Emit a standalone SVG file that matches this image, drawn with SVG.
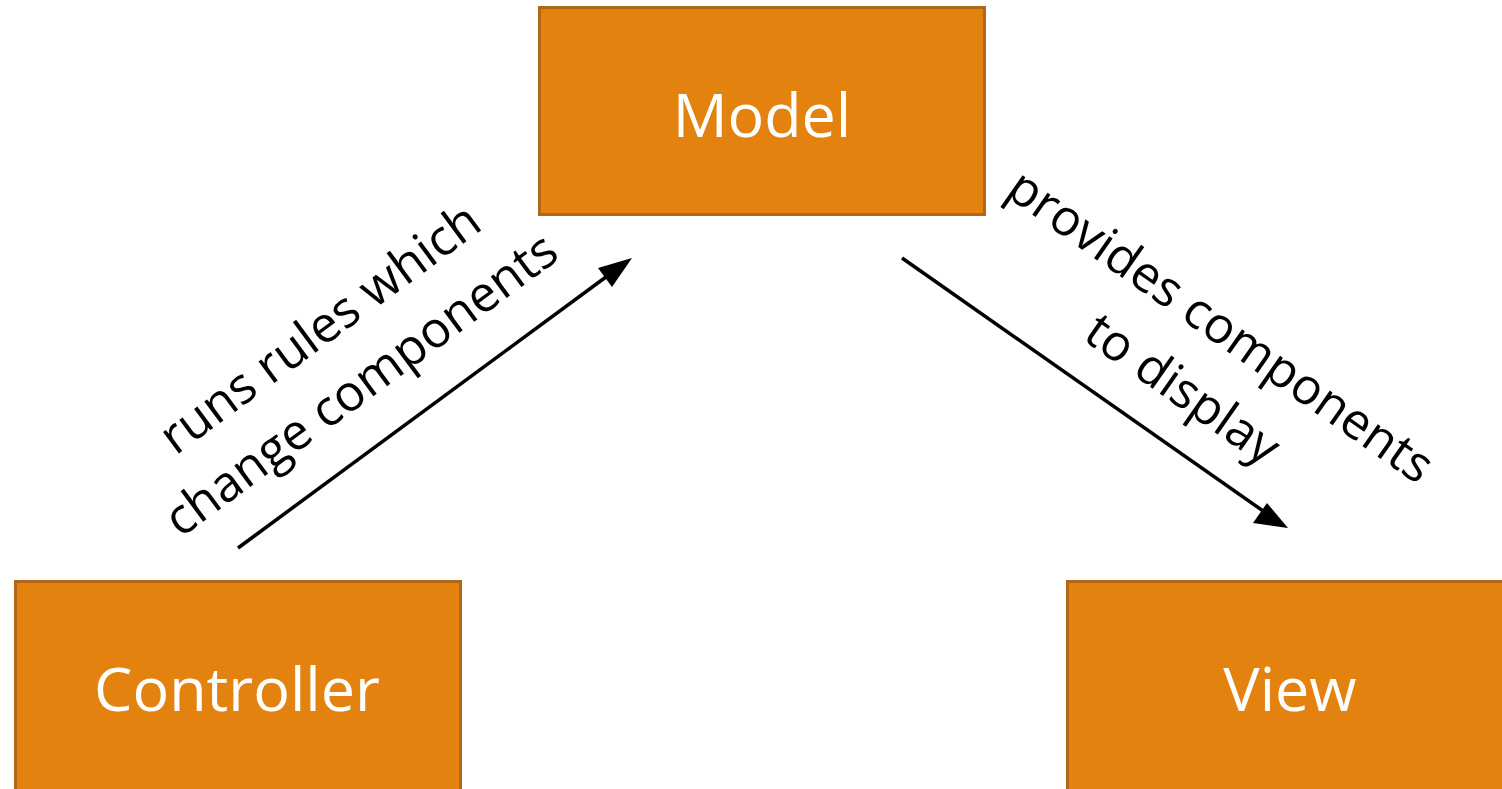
<svg xmlns="http://www.w3.org/2000/svg" width="1502" height="789" viewBox="0 0 1502 789">
<defs>
<style>
.box{fill:#E3820F;stroke:#B06818;stroke-width:3}
.nt{font-family:"Open Sans","Liberation Sans",sans-serif;font-size:61px;fill:#ffffff;text-anchor:middle}
.lb{font-family:"Open Sans","Liberation Sans",sans-serif;font-size:50px;fill:#000000;text-anchor:middle}
.cn{stroke:#000;stroke-width:3.5;fill:none}
</style>
</defs>
<rect width="1502" height="789" fill="#fff"/>
<g id="model"><rect class="box" x="539.5" y="7.5" width="445" height="207"/><text class="nt" x="762" y="137">Model</text></g>
<g id="controller"><rect class="box" x="15.5" y="581.5" width="445" height="220"/><text class="nt" x="237" y="711">Controller</text></g>
<g id="view"><rect class="box" x="1067.5" y="581.5" width="445" height="220"/><text class="nt" x="1290" y="711">View</text></g>
<g id="connectors">
<line class="cn" x1="238" y1="548" x2="610" y2="274"/>
<path d="M632,258 L612,287 L598,268 z" fill="#000"/>
<line class="cn" x1="902" y1="258" x2="1266" y2="513"/>
<path d="M1288,528 L1253,523 L1267,503 z" fill="#000"/>
</g>
<g id="labels">
<text class="lb" transform="translate(330,342) rotate(-36.4)">runs rules which</text>
<text class="lb" transform="translate(371,398) rotate(-36.4)">change components</text>
<text class="lb" transform="translate(1211,340) rotate(35)">provides components</text>
<text class="lb" transform="translate(1173,403) rotate(35)">to display</text>
</g>
</svg>
